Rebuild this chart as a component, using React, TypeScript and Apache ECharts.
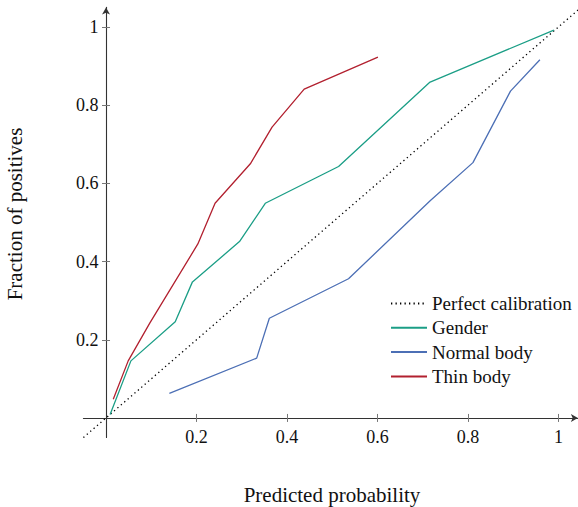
import React, { useEffect, useRef } from "react";
import * as echarts from "echarts";

const xTicks = [0.2, 0.4, 0.6, 0.8, 1];
const yTicks = [0.2, 0.4, 0.6, 0.8, 1];

const perfectX = [-0.05, 1.05];
const perfectY = [-0.05, 1.05];

const genderX = [0.009, 0.055, 0.153, 0.191, 0.295, 0.352, 0.514, 0.715, 0.99];
const genderY = [0.009, 0.146, 0.246, 0.348, 0.451, 0.549, 0.643, 0.858, 0.992];

const normalX = [0.14, 0.333, 0.361, 0.536, 0.717, 0.811, 0.894, 0.959];
const normalY = [0.063, 0.153, 0.255, 0.356, 0.556, 0.653, 0.836, 0.916];

const thinX = [0.016, 0.049, 0.097, 0.203, 0.241, 0.319, 0.367, 0.438, 0.601];
const thinY = [0.048, 0.146, 0.243, 0.445, 0.549, 0.65, 0.744, 0.841, 0.923];

const seriesNames = ["Perfect calibration", "Gender", "Normal body", "Thin body"];
const colors = ["#000000", "#1b9e86", "#4c6fb5", "#b2202f"];

const zip = (xs: number[], ys: number[]) => xs.map((x, i) => [x, ys[i]]);

const FONT = "'Liberation Serif', 'DejaVu Serif', serif";

export default function App() {
  const ref = useRef<HTMLDivElement>(null);
  useEffect(() => {
    if (!ref.current) return;
    const chart = echarts.init(ref.current, undefined, { renderer: "svg" });
    const axisCommon = (isX: boolean, inside: boolean, labels: boolean) => ({
      type: "value",
      min: -0.05,
      max: isX ? 1.043 : 1.05,
      position: isX ? "bottom" : "left",
      splitLine: { show: false },
      axisLine: {
        show: true,
        onZero: true,
        symbol: labels ? ["none", "arrow"] : ["none", "none"],
        symbolSize: [6, 7],
        symbolOffset: [0, 0],
        lineStyle: { color: "#333333", width: 1.1, opacity: labels ? 1 : 0 },
      },
      axisTick: {
        show: true,
        inside,
        length: 4,
        customValues: isX ? xTicks : yTicks,
        lineStyle: { color: "#777777", width: 1 },
      },
      axisLabel: {
        show: labels,
        customValues: isX ? xTicks : yTicks,
        margin: isX ? -9.5 : -15,
        color: "#111111",
        fontFamily: FONT,
        fontSize: 18,
      },
    });
    const lineSeries = (idx: number, data: number[][]) => ({
      name: seriesNames[idx],
      type: "line",
      xAxisIndex: 0,
      yAxisIndex: 0,
      data,
      symbol: "none",
      showSymbol: false,
      clip: true,
      lineStyle:
        idx === 0
          ? { color: colors[idx], width: 1.3, type: [1.3, 3.2] }
          : { color: colors[idx], width: 1.3 },
      itemStyle: { color: colors[idx] },
      emphasis: { disabled: true },
    });
    chart.setOption({
      animation: false,
      backgroundColor: "#ffffff",
      grid: { left: 83.4, top: 7.4, width: 494.5, height: 430.1, containLabel: false },
      xAxis: [axisCommon(true, false, true), axisCommon(true, true, false)],
      yAxis: [axisCommon(false, false, true), axisCommon(false, true, false)],
      legend: {
        orient: "vertical",
        left: 390,
        top: 294,
        padding: 0,
        itemWidth: 36,
        itemHeight: 14,
        itemGap: 5.3,
        itemStyle: { opacity: 0 },
        textStyle: { fontFamily: FONT, fontSize: 19, color: "#111111" },
        data: seriesNames,
      },
      graphic: [
        {
          type: "text",
          x: 332,
          y: 495,
          style: {
            text: "Predicted probability",
            fontFamily: FONT,
            fontSize: 21,
            fill: "#111111",
            align: "center",
            verticalAlign: "middle",
          },
        },
        {
          type: "text",
          x: 15,
          y: 214,
          rotation: Math.PI / 2,
          style: {
            text: "Fraction of positives",
            fontFamily: FONT,
            fontSize: 21,
            fill: "#111111",
            align: "center",
            verticalAlign: "middle",
          },
        },
      ],
      series: [
        lineSeries(0, zip(perfectX, perfectY)),
        lineSeries(1, zip(genderX, genderY)),
        lineSeries(2, zip(normalX, normalY)),
        lineSeries(3, zip(thinX, thinY)),
      ],
    });
    return () => chart.dispose();
  }, []);
  return (
    <div
      ref={ref}
      style={{ position: "fixed", left: 0, top: 0, width: 578, height: 507 }}
    />
  );
}
